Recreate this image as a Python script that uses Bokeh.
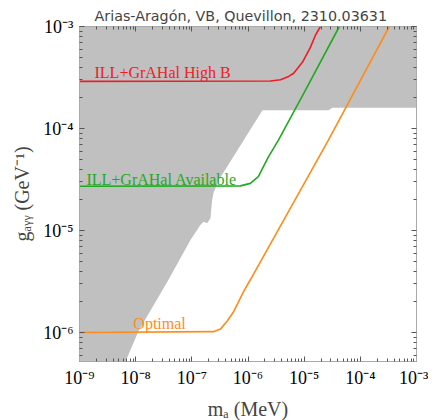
import numpy as np
from bokeh.plotting import figure
from bokeh.models import LogAxis, FixedTicker, CustomJSTickFormatter, Label, Range1d
from bokeh.embed import file_html
from bokeh.resources import INLINE

# ---------------- data ----------------
title_text = "Arias-Aragón, VB, Quevillon, 2310.03631"
x_title = "m\u2090 (MeV)"
y_title = "g\u2090\u1d67\u1d67 (GeV\u207b\u00b9)"
x_limits = (1e-9, 1e-3)          # m_a (MeV)
y_limits = (5.2e-7, 1e-3)        # g_agg (GeV^-1)

x_major = [1e-9, 1e-8, 1e-7, 1e-6, 1e-5, 1e-4, 1e-3]
y_major = [1e-6, 1e-5, 1e-4, 1e-3]

# grey excluded region (boundary)
excl_m = [1e-9, 1e-3, 1e-3, 3.19e-5, 2.71e-5, 1.81e-6, 3.02e-7, 2.43e-7, 2.30e-7,
          2.19e-7, 2.15e-7, 1.87e-7, 1.63e-7, 1.43e-7, 9.46e-8, 3.84e-8, 1.12e-8,
          6.4e-9, 1e-9]
excl_g = [1e-3, 1e-3, 1.60e-4, 1.60e-4, 1.51e-4, 1.51e-4, 3.13e-5, 2.33e-5, 1.99e-5,
          1.49e-5, 1.32e-5, 1.18e-5, 1.22e-5, 1.14e-5, 8.09e-6, 3.29e-6, 1.03e-6,
          5.0e-7, 5.0e-7]

# ILL+GrAHal High B
highB_m = [1e-9, 2.5e-6, 3.8e-6, 5.3e-6, 6.5e-6, 9.3e-6, 1.29e-5, 1.58e-5, 1.95e-5]
highB_g = [2.90e-4, 2.92e-4, 3.01e-4, 3.24e-4, 3.48e-4, 4.45e-4, 6.24e-4, 8.17e-4, 1.0e-3]

# ILL+GrAHal Available
avail_m = [1e-9, 7.33e-7, 1.10e-6, 1.53e-6, 1.88e-6, 2.31e-6, 3.08e-6, 3.48e-6, 1.05e-5, 4.23e-5]
avail_g = [2.72e-5, 2.74e-5, 2.90e-5, 3.37e-5, 4.22e-5, 5.27e-5, 6.87e-5, 7.69e-5, 2.37e-4, 1.0e-3]

# Optimal
opt_m = [1e-9, 2.42e-7, 3.23e-7, 4.25e-7, 5.57e-7, 6.84e-7, 8.38e-7, 1.10e-6, 2.70e-5, 3.28e-4]
opt_g = [1.0e-6, 1.02e-6, 1.08e-6, 1.29e-6, 1.61e-6, 2.02e-6, 2.53e-6, 3.29e-6, 7.69e-5, 1.0e-3]

# ---------------- figure ----------------
p = figure(x_axis_type="log", y_axis_type="log",
           x_range=Range1d(*x_limits), y_range=Range1d(*y_limits),
           frame_width=337, frame_height=335,
           min_border_left=79, min_border_right=12, min_border_top=26, min_border_bottom=57,
           output_backend="svg", toolbar_location=None, title=title_text)

p.title.text_font = "DejaVu Sans"
p.title.text_font_size = "14.3px"
p.title.text_font_style = "normal"
p.title.align = "left"
p.title.offset = 15
p.title.standoff = 5

p.grid.visible = False
p.outline_line_color = "#aaaaaa"
p.background_fill_color = "white"
p.border_fill_color = "white"

p.patch(excl_m, excl_g, fill_color="#c0c0c0", line_color=None)

p.line(highB_m, highB_g, line_color="#ee1c25", line_width=1.6)
p.line(avail_m, avail_g, line_color="#1faa1f", line_width=1.6)
p.line(opt_m, opt_g, line_color="#ff8c1a", line_width=1.6)

serif = "Liberation Serif"
p.add_layout(Label(x=1.85e-9, y=3.24e-4, y_offset=4, text="ILL+GrAHal High B", text_color="#ee1c25",
                   text_font=serif, text_font_size="16px", text_baseline="alphabetic"))
p.add_layout(Label(x=1.33e-9, y=2.9e-5, y_offset=4, text="ILL+GrAHal Available", text_color="#1faa1f",
                   text_font=serif, text_font_size="16px", text_baseline="alphabetic"))
p.add_layout(Label(x=9.1e-9, y=1.11e-6, y_offset=4, text="Optimal", text_color="#ff8c1a",
                   text_font=serif, text_font_size="16px", text_baseline="alphabetic"))

sup_code = """
const sup = {'-':'\u207b','0':'\u2070','1':'\u00b9','2':'\u00b2','3':'\u00b3','4':'\u2074',
             '5':'\u2075','6':'\u2076','7':'\u2077','8':'\u2078','9':'\u2079'};
const e = Math.round(Math.log10(tick));
return '10' + String(e).split('').map(c => sup[c]).join('');
"""
blank_code = "return '';"

def minors(majors):
    lo = int(round(np.log10(majors[0]))) - 1
    hi = int(round(np.log10(majors[-1])))
    return [k * 10.0 ** e for e in range(lo, hi + 1) for k in range(2, 10)]

def style(ax, majors, labels):
    ax.ticker = FixedTicker(ticks=majors, minor_ticks=minors(majors))
    ax.major_tick_in = 5
    ax.major_tick_out = 0
    ax.minor_tick_in = 3
    ax.minor_tick_out = 0
    ax.major_tick_line_color = "#555555"
    ax.minor_tick_line_color = "#555555"
    ax.axis_line_color = "#aaaaaa"
    ax.major_label_text_font = serif
    ax.major_label_text_font_size = "18px"
    ax.major_label_text_color = "black"
    ax.formatter = CustomJSTickFormatter(code=sup_code if labels else blank_code)
    ax.major_label_standoff = 6 if labels else 0

style(p.xaxis[0], x_major, True)
style(p.yaxis[0], y_major, True)
p.xaxis[0].axis_label = x_title
p.yaxis[0].axis_label = y_title
for ax in (p.xaxis[0], p.yaxis[0]):
    ax.axis_label_text_font = serif
    ax.axis_label_text_font_size = "20px"
    ax.axis_label_text_font_style = "normal"
p.xaxis[0].axis_label_standoff = 7
p.yaxis[0].axis_label_standoff = 7

top = LogAxis()
right = LogAxis()
style(top, x_major, False)
style(right, y_major, False)
p.add_layout(top, "above")
p.add_layout(right, "right")

open("out.html", "w").write(file_html(p, INLINE))
